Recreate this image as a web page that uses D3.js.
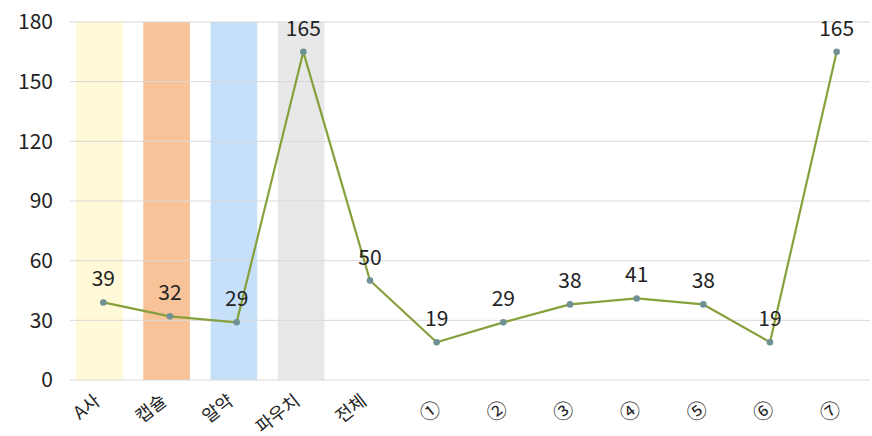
<!DOCTYPE html>
<html><head><meta charset="utf-8">
<script src="https://cdn.jsdelivr.net/npm/d3@7"></script>
<style>body{margin:0;background:#fff}svg{display:block}</style>
</head><body><svg id="c" width="872" height="436"></svg>
<script>
const categories = ["A사","캡슐","알약","파우치","전체","①","②","③","④","⑤","⑥","⑦"];
const values = [39,32,29,165,50,19,29,38,41,38,19,165];
const bgCategories = ["A사","캡슐","알약","파우치"];
const bgColors = ["#FFF9D8","#F8C398","#C7E0FA","#E8E8E8"];
const yTicks = [0,30,60,90,120,150,180];

const svg = d3.select("#c");
const font = "'Noto Sans CJK KR','Noto Sans',sans-serif";
const x = d3.scaleBand().domain(categories).range([70,870]).paddingInner(0.3).paddingOuter(0.15);
const xc = d => x(d) + x.bandwidth()/2;
const y = d3.scaleLinear().domain([0,180]).range([380,22]);
const isDigit = d => /[①-⑦]/.test(d);

// background bars
svg.append("g").selectAll("rect").data(bgCategories).join("rect")
  .attr("x", (d,i)=>x(d)-4+i*0.6).attr("width", x.bandwidth())
  .attr("y", y(180)).attr("height", y(0)-y(180))
  .attr("fill", (d,i)=>bgColors[i]);

// gridlines
svg.append("g").selectAll("line").data(yTicks).join("line")
  .attr("x1",70).attr("x2",870).attr("y1",d=>y(d)).attr("y2",d=>y(d))
  .attr("stroke","#d9d9d9").attr("stroke-width",1);

// y axis labels
const ya = svg.append("g").attr("transform","translate(53,0)")
  .call(d3.axisLeft(y).tickValues(yTicks).tickSize(0).tickPadding(0));
ya.select(".domain").remove();
ya.selectAll("text").attr("font-family",font).attr("font-size",21).attr("fill","#222");

// x axis labels
const xa = svg.append("g")
  .call(d3.axisBottom(x).tickSize(0).tickPadding(0));
xa.select(".domain").remove();
xa.selectAll(".tick").attr("transform", d=>`translate(${xc(d)-(isDigit(d)?4:11)},${isDigit(d)?398:392})`);
xa.selectAll("text").attr("font-family",font)
  .attr("font-size", d=>isDigit(d)?20:18).attr("fill","#222")
  .attr("text-anchor","end").attr("y",0).attr("dy","0.8em")
  .attr("transform","rotate(-38)");

// line
const line = d3.line().x((d,i)=>xc(categories[i])).y(d=>y(d));
svg.append("path").datum(values).attr("d",line).attr("fill","none")
  .attr("stroke","#86A03C").attr("stroke-width",2.2).attr("stroke-linejoin","round");

svg.append("g").selectAll("circle").data(values).join("circle")
  .attr("cx",(d,i)=>xc(categories[i])).attr("cy",d=>y(d)).attr("r",3.3)
  .attr("fill","#6F9196");

svg.append("g").selectAll("text").data(values).join("text")
  .attr("x",(d,i)=>xc(categories[i])).attr("y",d=>y(d)-16)
  .attr("text-anchor","middle").attr("font-family",font).attr("font-size",21).attr("fill","#222")
  .text(d=>d);
</script></body></html>
